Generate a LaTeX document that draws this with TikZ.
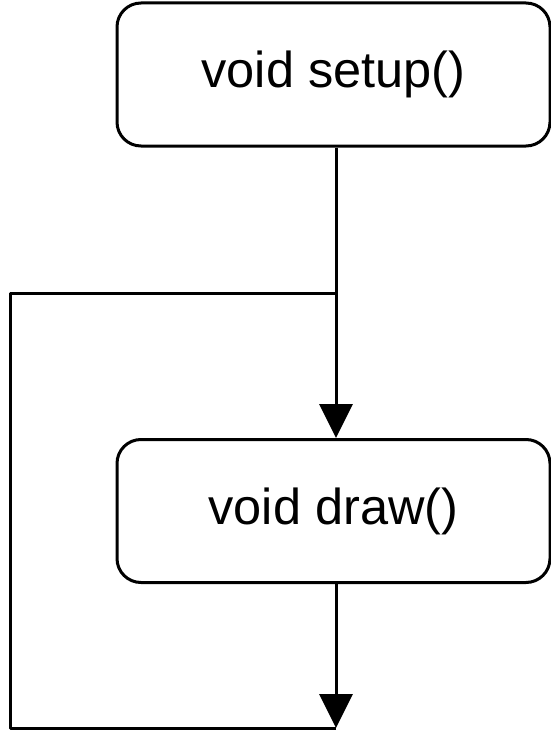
\documentclass[tikz,border=0pt]{standalone}
\usepackage{fontspec}
\setmainfont{Liberation Sans}
\usetikzlibrary{arrows.meta}
\begin{document}
\begin{tikzpicture}[x=1pt,y=-1pt,
  procbox/.style={draw, line width=3pt, rounded corners=24pt, fill=white,
    minimum width=433pt, minimum height=143pt, inner sep=0pt,
    font=\fontsize{50.5}{60}\selectfont},
  flow/.style={line width=3pt},
  tip/.style={-{Triangle[length=34pt,width=33pt]}}]
  \useasboundingbox (0,0) rectangle (551,733);
  % the two program blocks
  \node[procbox] (setup) at (333.5,74.5) {void setup()};
  \node[procbox] (loopbody) at (333.5,511) {void draw()};
  % junction where the loop re-enters, and the loop's return corner
  \coordinate (join) at (336,293);
  \coordinate (ret) at (336,728);
  \coordinate (leftcorner) at (10,728);
  \coordinate (topcorner) at (10,293);
  \draw[flow,tip] (setup.south -| join) -- (loopbody.north -| join);
  \draw[flow,tip] (loopbody.south -| ret) -- (ret);
  \draw[flow,line join=round] (ret) -- (leftcorner) -- (topcorner) -- (join);
\end{tikzpicture}
\end{document}
